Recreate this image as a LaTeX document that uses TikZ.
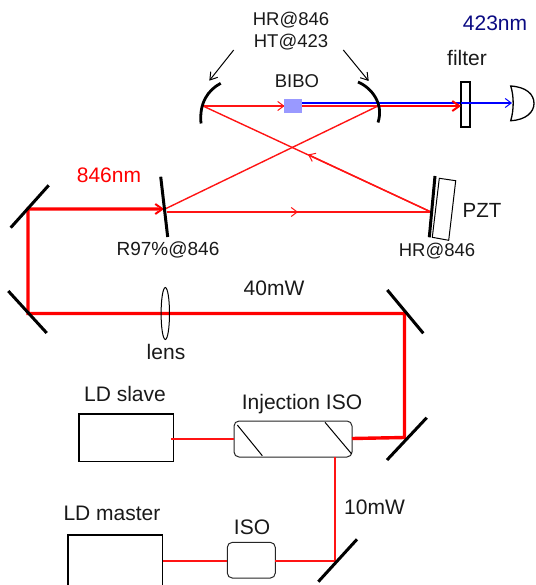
\documentclass[tikz,border=0pt]{standalone}
\usepackage{fontspec}
\setmainfont{Liberation Sans}
\usetikzlibrary{arrows.meta}
\definecolor{beam}{RGB}{255,0,0}
\definecolor{thinbeam}{RGB}{255,20,20}
\definecolor{navyt}{RGB}{10,10,130}
\definecolor{txt}{RGB}{25,25,25}
\tikzset{
  lbl/.style={inner sep=0pt,text=txt,font=\fontsize{21}{23}\selectfont},
  lblsmall/.style={inner sep=0pt,text=txt,font=\fontsize{18.5}{20}\selectfont},
  mirror/.style={draw=black,line width=3pt},
  bigbox/.style={draw=black,line width=1.6pt,fill=white},
  iso/.style={draw=black!85,line width=1pt,rounded corners=5pt,fill=white},
  thinb/.style={draw=thinbeam,line width=1.4pt},
  thickb/.style={draw=beam,line width=3.4pt},
  barb/.style={-{Straight Barb[length=6pt,width=9pt,line width=1pt]}},
  bigbarb/.style={-{Straight Barb[length=7pt,width=10pt,line width=2pt]}},
  note/.style={draw=black,line width=1pt,-{Straight Barb[length=7pt,width=9pt,line width=1pt]}}
}
\begin{document}
\begin{tikzpicture}[x=1pt,y=-1pt]
\useasboundingbox (0,0) rectangle (535,585);
% coordinates
\coordinate (cl) at (203,106);
\coordinate (cr) at (378,106);
\coordinate (cavb) at (284.5,106);
\coordinate (in) at (165,209);
\coordinate (inb) at (167,212);
\coordinate (pz) at (431,212);
\coordinate (ul) at (28,209);
\coordinate (ll) at (28,313.5);
\coordinate (ur) at (404.5,313.5);
\coordinate (lr) at (404.5,437.5);
\coordinate (tm) at (335,561);
\coordinate (sla) at (171,439);
\coordinate (slb) at (234,439);
\coordinate (maa) at (163,561);
\coordinate (mab) at (227.3,561);
\coordinate (isa) at (275.3,561);
\coordinate (tmu) at (335,457);
\coordinate (ine) at (352,438.5);
\coordinate (bla) at (302,103);
\coordinate (blb) at (461,103);
\coordinate (bld) at (512,103);
% boxes
\node[bigbox,minimum width=94.7pt,minimum height=47.7pt,inner sep=0pt] (slave) at (126.3,437.8) {};
\node[bigbox,minimum width=94.7pt,minimum height=60pt,inner sep=0pt] (master) at (115.3,564.7) {};
\node[iso,minimum width=118pt,minimum height=36pt,inner sep=0pt] (inj) at (293,439) {};
\node[iso,minimum width=48pt,minimum height=35.7pt,inner sep=0pt] (isob) at (251.3,560.2) {};
% isolator polarisers
\draw[black,line width=1pt] (237.3,425) -- (262.3,455.7);
\draw[black,line width=1pt] (325,422.3) -- (351.7,454);
% beams low power
\draw[thinb] (sla) -- (slb);
\draw[thinb] (maa) -- (mab);
\draw[thinb] (isa) -- (tm) -- (tmu);
% thick beam
\draw[thickb,line join=miter] (ine) -- (lr) -- (ur) -- (ll) -- (ul) -- (158,209);
\draw[draw=beam,line width=2pt,bigbarb] (150,209) -- (164,209);
% cavity thin beams
\draw[thinb] (cl) -- (cr);
\draw[thinb,barb] (cl) -- (cavb);
\draw[thinb] (in) -- (cr);
\draw[thinb] (cl) -- (pz);
\draw[thinb,barb] (pz) -- (308,154.5);
\draw[thinb] (inb) -- (pz);
\draw[thinb,barb] (inb) -- (298,212);
% BIBO and output
\node[fill=blue!40,draw=none,minimum width=18pt,minimum height=14pt,inner sep=0pt] (bibo) at (293,106) {};
\draw[draw=blue,line width=1.4pt] (bla) -- (blb);
\node[draw=black,line width=1.3pt,fill=white,minimum width=9pt,minimum height=45pt,inner sep=0pt] (filt) at (465.5,104.5) {};
\draw[draw=beam,line width=2.5pt] (cr) -- (455,106);
\draw[draw=beam,line width=2pt,bigbarb] (448,106) -- (461,106);
\draw[draw=blue,line width=1.4pt,barb] (blb) -- (bld);
% detector
\draw[black,line width=1.3pt,fill=white] (510.7,86) .. controls (514,96) and (514,110) .. (510.7,120.7) .. controls (526,120) and (534,112) .. (534,103.5) .. controls (534,94) and (526,87) .. (510.7,86) -- cycle;
% curved mirrors
\draw[mirror,line width=2.8pt] (220.7,83.3) .. controls (208,90) and (199,103) .. (201,123.5);
\draw[mirror,line width=2.8pt] (358,82) .. controls (372,88) and (384,104) .. (378,122.5);
% plane mirrors
\draw[mirror] (160.7,176.7) -- (167.7,237);
\draw[mirror] (10.7,227.7) -- (48.7,185.3);
\draw[mirror] (8.3,291) -- (46.7,333);
\draw[mirror] (387.3,290) -- (423.3,333.3);
\draw[mirror] (387,460) -- (426.7,417.7);
\draw[mirror] (318.3,581.7) -- (357,539.3);
% PZT
\draw[black,line width=1pt,fill=white] (439.3,178.3) -- (455.7,180.7) -- (448.7,240.3) -- (432.3,237.3) -- cycle;
\draw[mirror] (435,176) -- (429.3,237.3);
% lens
\draw[black,line width=1pt] (165.3,313.5) ellipse [x radius=4.2pt,y radius=26pt];
% note arrows
\coordinate (n1a) at (233.7,50); \coordinate (n1b) at (209.3,80.7);
\coordinate (n2a) at (343.3,50); \coordinate (n2b) at (368.7,81);
\draw[note] (n1a) -- (n1b);
\draw[note] (n2a) -- (n2b);
% labels
\node[lblsmall] (t1) at (291,20) {HR@846};
\node[lblsmall] (t2) at (291,42) {HT@423};
\node[lbl,text=navyt] (t3) at (495,23) {423nm};
\node[lbl] (t4) at (467,58) {filter};
\node[lblsmall] (t5) at (297,81) {BIBO};
\node[lbl,text=beam] (t6) at (109,175) {846nm};
\node[lblsmall,font=\fontsize{19}{20}\selectfont] (t7) at (168,250) {R97\%@846};
\node[lblsmall] (t8) at (437,251) {HR@846};
\node[lbl,font=\fontsize{20.5}{22}\selectfont] (t9) at (482,210) {PZT};
\node[lbl] (t10) at (274,288) {40mW};
\node[lbl] (t11) at (166,352) {lens};
\node[lbl] (t12) at (125,394) {LD slave};
\node[lbl] (t13) at (112,513) {LD master};
\node[lbl] (t14) at (302,404) {Injection ISO};
\node[lbl] (t15) at (252,527) {ISO};
\node[lbl] (t16) at (374.5,507) {10mW};
\end{tikzpicture}
\end{document}
